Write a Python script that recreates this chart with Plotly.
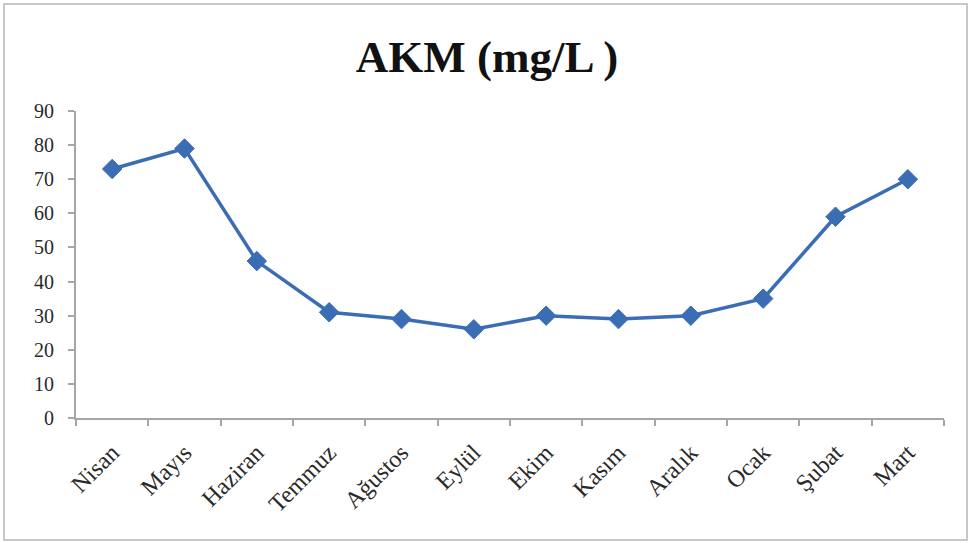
import plotly.graph_objects as go

# Monthly suspended solids (AKM) concentration, mg/L
months = ["Nisan", "Mayıs", "Haziran", "Temmuz", "Ağustos", "Eylül",
          "Ekim", "Kasım", "Aralık", "Ocak", "Şubat", "Mart"]
akm = [73, 79, 46, 31, 29, 26, 30, 29, 30, 35, 59, 70]
y_ticks = [0, 10, 20, 30, 40, 50, 60, 70, 80, 90]

line_color = "#3b6db5"
axis_color = "#a6a6a6"
text_color = "#2a2a2a"
font_family = "Liberation Serif, Times New Roman, serif"

fig = go.Figure()
fig.add_trace(go.Scatter(
    x=months, y=akm, mode="lines+markers",
    line=dict(color=line_color, width=3.5),
    marker=dict(symbol="diamond", size=15, color=line_color,
                line=dict(color=line_color, width=1)),
    showlegend=False,
))

fig.update_layout(
    width=970, height=543,
    margin=dict(l=76, r=26, t=111, b=125),
    paper_bgcolor="white", plot_bgcolor="white",
    title=dict(text="<b>AKM (mg/L )</b>", x=0.502, xanchor="center",
               y=0.897, yanchor="middle",
               font=dict(family=font_family, size=45, color="#111111")),
    font=dict(family=font_family, color=text_color),
    xaxis=dict(
        type="category", range=[-0.5, 11.5],
        showline=True, linecolor=axis_color, linewidth=2,
        ticks="outside", tickson="boundaries", ticklen=6,
        tickcolor=axis_color, tickwidth=1.5,
        tickangle=-45, tickfont=dict(size=24, color=text_color),
        ticklabelstandoff=9,
        showgrid=False, zeroline=False,
    ),
    yaxis=dict(
        range=[0, 90], tickvals=y_ticks,
        showline=True, linecolor=axis_color, linewidth=2,
        ticks="outside", ticklen=6, tickcolor=axis_color, tickwidth=1.5,
        tickfont=dict(size=20, color=text_color),
        ticklabelstandoff=10,
        showgrid=False, zeroline=False,
    ),
    shapes=[dict(
        type="rect", xref="paper", yref="paper",
        x0=(4 - 76) / 868, x1=(967 - 76) / 868,
        y0=(418 - 540) / 307, y1=(418 - 4) / 307,
        line=dict(color="#c8c8c8", width=2), fillcolor="rgba(0,0,0,0)",
        layer="below",
    )],
)

fig.write_html("out.html")
